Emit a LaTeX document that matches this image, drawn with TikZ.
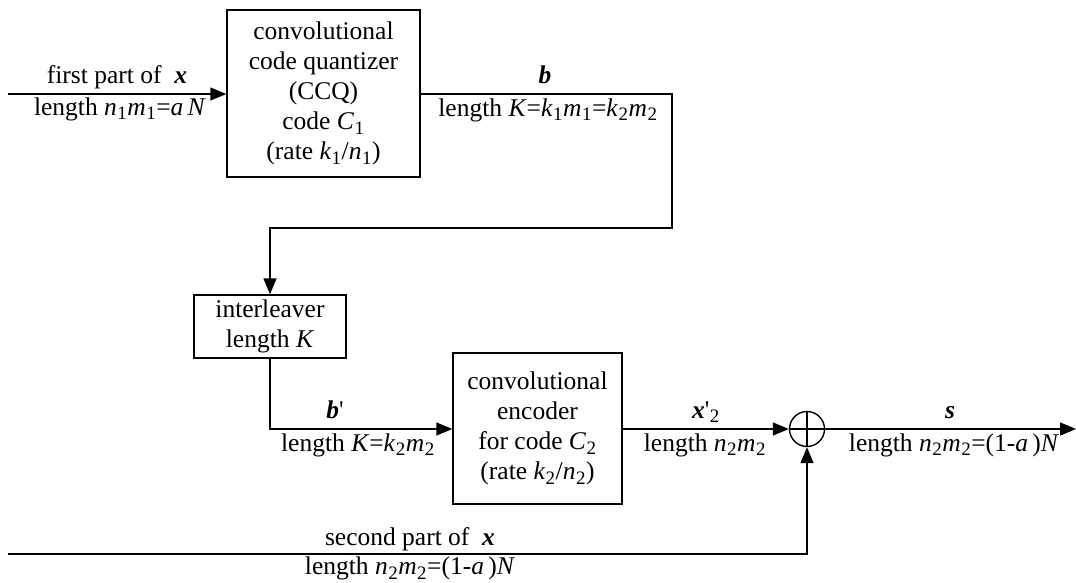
\documentclass[tikz,border=0pt]{standalone}
\usepackage{fontspec}
\setmainfont{Liberation Serif}
\usetikzlibrary{arrows.meta}
\newcommand\sbs[1]{\kern0.5pt\raisebox{-0.4ex}{\fontsize{19}{19}\selectfont #1}\kern0.5pt}
\newcommand\vi[1]{\textit{#1}}
\newcommand\vb[1]{\textbf{\textit{#1}}}
\newcommand\prm{\textquotesingle}
\begin{document}
\begin{tikzpicture}[x=1pt,y=-1pt,
  every node/.style={font=\fontsize{25.5}{30}\selectfont, inner sep=0pt},
  blk/.style={draw, line width=1.4pt, align=center},
  lbl/.style={anchor=base},
  conn/.style={line width=1.4pt},
  arr/.style={conn, -{Triangle[length=16pt,width=13pt]}}]
\useasboundingbox (0,0) rectangle (1076,582);
% blocks
\node[blk, minimum width=193pt, minimum height=167pt] (ccq) at (323.5,93.5)
  {convolutional\\code quantizer\\(CCQ)\\code \vi{C}\sbs{1}\\(rate \vi{k}\sbs{1}/\vi{n}\sbs{1})};
\node[blk, minimum width=152pt, minimum height=63pt] (inter) at (270,326.5)
  {interleaver\\length \vi{K}};
\node[blk, minimum width=169pt, minimum height=151pt] (enc) at (537.5,428.5)
  {convolutional\\encoder\\for code \vi{C}\sbs{2}\\(rate \vi{k}\sbs{2}/\vi{n}\sbs{2})};
\node[draw, circle, line width=1.4pt, minimum size=35pt] (xor) at (807,429) {};
\draw[line width=1.4pt] (xor.north) -- (xor.south) (xor.west) -- (xor.east);
% coordinates
\coordinate (in1) at (8,94);
\coordinate (in2) at (8,554);
\coordinate (out) at (1076,429);
\coordinate (c1) at (672,94);
\coordinate (c2) at (672,228);
\coordinate (c3) at (270,228);
\coordinate (c4) at (270,429);
\coordinate (c5) at (807,554);
% connectors
\draw[arr] (in1) -- (ccq.west |- in1);
\draw[arr] (ccq.east |- c1) -- (c1) -- (c2) -- (c3) -- (inter.north);
\draw[arr] (inter.south) -- (c4) -- (enc.west |- c4);
\draw[arr] (enc.east |- c4) -- (xor.west);
\draw[arr] (xor.east) -- (out);
\draw[arr] (in2) -- (c5) -- (xor.south);
% labels
\node[lbl] (l1a) at (117,83) {first part of \ \vb{x}};
\node[lbl] (l1b) at (120,115) {length \vi{n}\sbs{1}\vi{m}\sbs{1}=\vi{a}\,\vi{N}};
\node[lbl] (l2a) at (545,83) {\vb{b}};
\node[lbl] (l2b) at (548,116) {length \vi{K}=\vi{k}\sbs{1}\vi{m}\sbs{1}=\vi{k}\sbs{2}\vi{m}\sbs{2}};
\node[lbl] (l3a) at (335,418) {\vb{b}\prm};
\node[lbl] (l3b) at (358,451) {length \vi{K}=\vi{k}\sbs{2}\vi{m}\sbs{2}};
\node[lbl] (l4a) at (706,418) {\vb{x}\prm\sbs{2}};
\node[lbl] (l4b) at (705,451) {length \vi{n}\sbs{2}\vi{m}\sbs{2}};
\node[lbl] (l5a) at (950,418) {\vb{s}};
\node[lbl] (l5b) at (954,451) {length \vi{n}\sbs{2}\vi{m}\sbs{2}=(1-\vi{a}\,)\vi{N}};
\node[lbl] (l6a) at (410,545) {second part of \ \vb{x}};
\node[lbl] (l6b) at (410,574.5) {length \vi{n}\sbs{2}\vi{m}\sbs{2}=(1-\vi{a}\,)\vi{N}};
\end{tikzpicture}
\end{document}
